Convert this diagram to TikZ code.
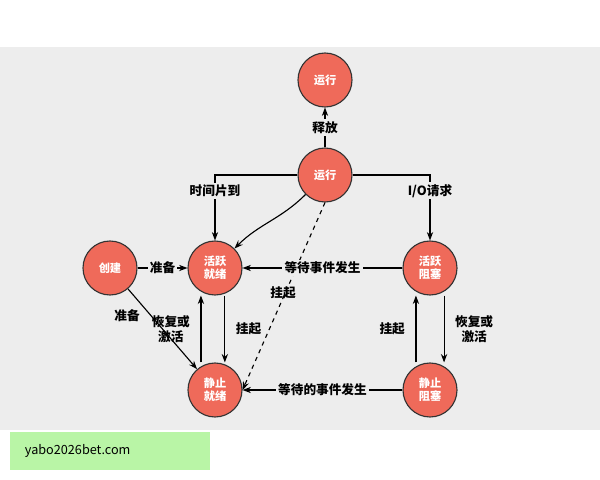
\documentclass[tikz,border=0pt]{standalone}
\usepackage{fontspec}
\setmainfont{Noto Sans CJK SC}
\usetikzlibrary{arrows.meta}
\definecolor{bgray}{HTML}{EDEDED}
\definecolor{nodered}{HTML}{EF6A5A}
\definecolor{bargreen}{HTML}{B9F5A6}
\tikzset{
  state/.style={draw=black!80, thick, circle, fill=nodered, minimum size=1.35cm, inner sep=0pt, text=white, font=\footnotesize\bfseries, align=center},
  edge/.style={draw, thick, -{Stealth[length=6pt]}},
  lbl/.style={fill=bgray, font=\small\bfseries, inner sep=1.5pt}
}
\begin{document}
\begin{tikzpicture}[x=0.025cm, y=-0.025cm]
\useasboundingbox (0,0) rectangle (600,480);
\fill[bgray] (0,47) rectangle (600,430);
\fill[bargreen] (10,432) rectangle (210,470);
\node[font=\small, anchor=west] (site) at (20,451) {yabo2026bet.com};
\node[state] (run2) at (325,80) {运行};
\node[state] (run) at (325,175) {运行};
\node[state] (new) at (110,268) {创建};
\node[state] (ready) at (215,268) {活跃\\就绪};
\node[state] (block) at (430,268) {活跃\\阻塞};
\node[state] (sready) at (215,390) {静止\\就绪};
\node[state] (sblock) at (430,390) {静止\\阻塞};
\path[edge] (run) -- node[lbl] {释放} (run2);
\path[edge] (run.west) -| node[lbl, pos=0.62] {时间片到} (ready.north);
\path[edge] (run.east) -| node[lbl, pos=0.62] {I/O请求} (block.north);
\path[edge] (run.south west) to[out=-135, in=45] (ready.north east);
\path[edge, dashed] (run.south) -- (sready.east);
\node[lbl, fill=none] (hang1) at (283,293) {挂起};
\path[edge] (new) -- node[lbl] {准备} (ready);
\path[edge] (new) -- (sready);
\node[lbl, fill=none] (prep2) at (127,316) {准备};
\path[edge] (block) -- node[lbl] {等待事件发生} (ready);
\path[edge] (sblock) -- node[lbl] {等待的事件发生} (sready);
\path[edge] ([xshift=7]ready.south) -- node[lbl, right=6pt, fill=none] {挂起} ([xshift=7]sready.north);
\path[edge] ([xshift=-10]sready.north) -- node[lbl, left=6pt, fill=none, align=center] {恢复或\\激活} ([xshift=-10]ready.south);
\path[edge] ([xshift=10]block.south) -- node[lbl, right=6pt, fill=none, align=center] {恢复或\\激活} ([xshift=10]sblock.north);
\path[edge] ([xshift=-10]sblock.north) -- node[lbl, left=6pt, fill=none] {挂起} ([xshift=-10]block.south);
\end{tikzpicture}
\end{document}
